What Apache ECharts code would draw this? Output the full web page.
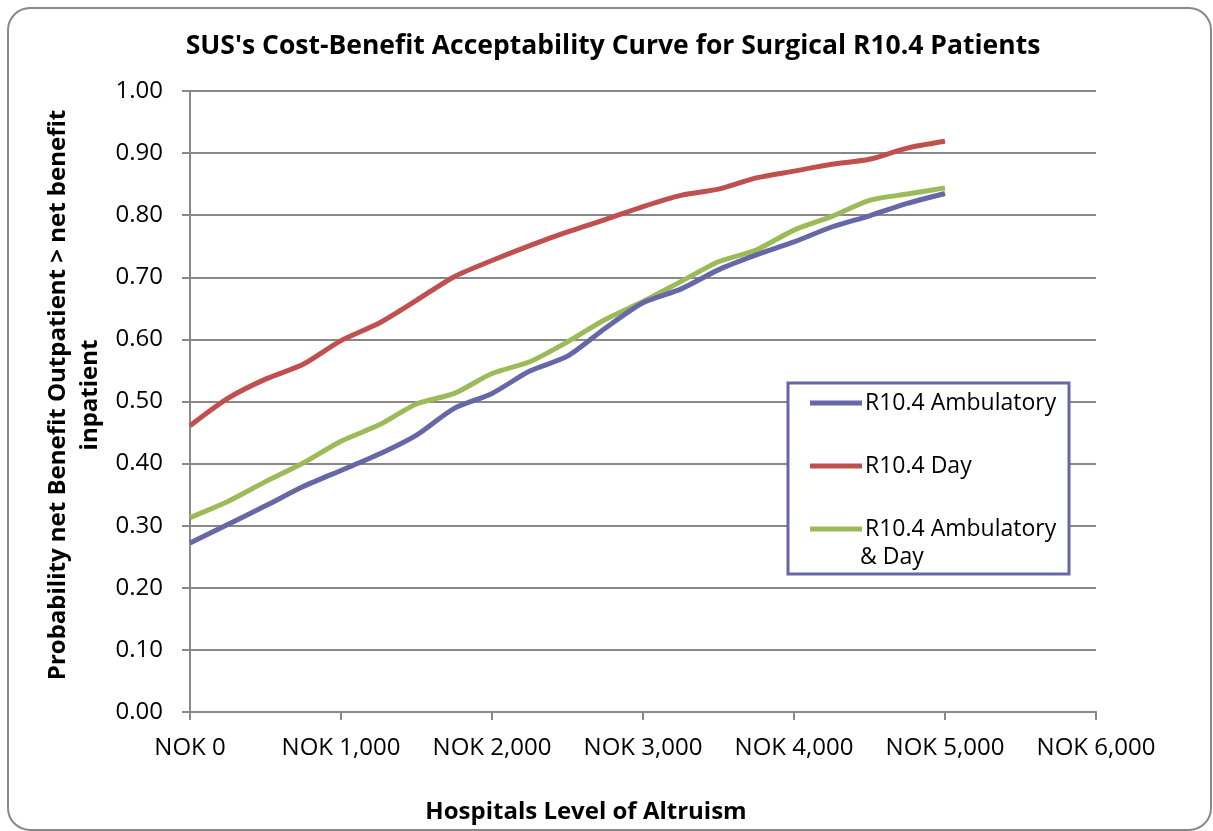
<!DOCTYPE html>
<html>
<head>
<meta charset="utf-8">
<script src="https://cdn.jsdelivr.net/npm/echarts@6/dist/echarts.min.js"></script>
<style>
html,body{margin:0;padding:0;background:#fff;}
#chart{width:1213px;height:831px;}
</style>
</head>
<body>
<div id="chart"></div>
<script>
const chartTitle = "SUS's Cost-Benefit Acceptability Curve for Surgical R10.4 Patients";
const xAxisTitle = "Hospitals Level of Altruism";
const yAxisTitle = "Probability net Benefit Outpatient > net benefit\ninpatient";
const seriesNames = ["R10.4 Ambulatory", "R10.4 Day", "R10.4 Ambulatory & Day"];
const altruism = [0,250,500,750,1000,1250,1500,1750,2000,2250,2500,2750,3000,3250,3500,3750,4000,4250,4500,4750,5000];
const ambulatory = [0.272,0.302,0.332,0.363,0.389,0.415,0.446,0.489,0.513,0.549,0.573,0.618,0.659,0.681,0.712,0.736,0.757,0.781,0.799,0.819,0.835];
const day = [0.461,0.505,0.536,0.560,0.598,0.626,0.663,0.701,0.727,0.751,0.773,0.793,0.814,0.832,0.842,0.860,0.871,0.882,0.890,0.908,0.919];
const ambulatoryDay = [0.313,0.339,0.371,0.401,0.436,0.462,0.496,0.513,0.545,0.564,0.596,0.632,0.661,0.693,0.725,0.744,0.776,0.798,0.824,0.834,0.844];
const colors = ["#6667A6", "#C0504D", "#9BBB59"];

const FONT = "Open Sans";
const chart = echarts.init(document.getElementById('chart'), null, {renderer:'canvas'});

function pairs(ys){ return altruism.map((x,i)=>[x, ys[i]]); }
function nok(v){ return 'NOK ' + v.toLocaleString('en-US'); }

const seriesData = [ambulatory, day, ambulatoryDay];

const option = {
  backgroundColor: '#fff',
  animation: false,
  textStyle: {fontFamily: FONT},
  title: {
    text: chartTitle,
    left: 608, top: 28, textAlign: 'center',
    textStyle: {fontFamily: FONT, fontSize: 26.5, fontWeight: 'bold', color: '#000'}
  },
  graphic: [
    {type:'rect', z:-10, silent:true, shape:{x:8,y:8,width:1203,height:822,r:22}, style:{fill:'#fff', stroke:'#888', lineWidth:2}},
    {type:'rect', z:50, silent:true, shape:{x:788,y:383,width:281,height:191}, style:{fill:'#fff', stroke:colors[0], lineWidth:3}},
    {type:'text', z:60, silent:true, left:860, top:546, style:{text:'& Day', fontFamily:FONT, fontSize:23, fill:'#000'}},
    {type:'text', z:60, silent:true, x:586, y:812, style:{text:xAxisTitle, fontFamily:FONT, fontSize:24, fontWeight:'bold', fill:'#000', align:'center', verticalAlign:'middle'}},
    {type:'text', z:60, silent:true, x:74, y:395, rotation:Math.PI/2, style:{text:yAxisTitle, fontFamily:FONT, fontSize:24, fontWeight:'bold', fill:'#000', align:'center', verticalAlign:'middle', lineHeight:32}}
  ],
  legend: {
    z: 70,
    orient: 'vertical',
    left: 805, top: 386,
    itemWidth: 52, itemHeight: 5,
    itemGap: 39,
    icon: 'rect',
    data: seriesNames.map((n,i)=>({name:n, itemStyle:{color:colors[i]}})),
    formatter: function(name){ return name === seriesNames[2] ? 'R10.4 Ambulatory' : name; },
    textStyle: {fontFamily: FONT, fontSize: 23, lineHeight: 24, color:'#000', padding:[0,0,0,-2]}
  },
  grid: {left:190, right:117, top:91, bottom:119, containLabel:false},
  xAxis: {
    type:'value', min:0, max:6000, interval:1000,
    axisLine:{show:true, lineStyle:{color:'#888', width:2}},
    axisTick:{show:true, length:8, lineStyle:{color:'#888', width:2}},
    splitLine:{show:false},
    axisLabel:{formatter:nok, margin:24, fontFamily:FONT, fontSize:24, color:'#000'}
  },
  yAxis: {
    type:'value', min:0, max:1, interval:0.1,
    axisLine:{show:true, lineStyle:{color:'#888', width:2}},
    axisTick:{show:true, length:8, lineStyle:{color:'#888', width:2}},
    splitLine:{show:true, lineStyle:{color:'#888', width:2}},
    axisLabel:{formatter:v=>v.toFixed(2), margin:27, fontFamily:FONT, fontSize:24, color:'#000'}
  },
  series: seriesNames.map((n,i)=>({
    name:n, type:'line', data:pairs(seriesData[i]),
    smooth:0.25, showSymbol:false, symbol:'none',
    lineStyle:{color:colors[i], width:5},
    itemStyle:{color:colors[i]},
    z: 10 + (i===0?2:(i===2?1:0))
  }))
};
chart.setOption(option);
</script>
</body>
</html>
